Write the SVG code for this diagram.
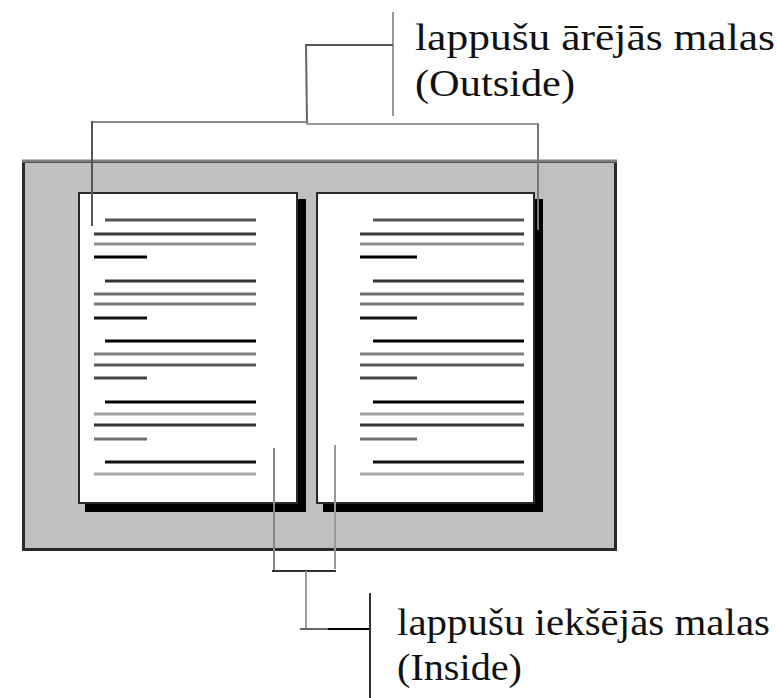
<svg xmlns="http://www.w3.org/2000/svg" width="777" height="698" viewBox="0 0 777 698">
<style>
.lbl{font-family:"Liberation Serif","DejaVu Serif",serif;font-size:38px;fill:#111}
.page{fill:#fff;stroke:#2a2a2a;stroke-width:2}
.shadow{fill:#000}
.tl line{stroke-width:3}
.con{fill:none;stroke-width:2}
</style>
<rect width="777" height="698" fill="#fff"/>
<g id="board">
<rect x="23.5" y="161.5" width="592" height="388" fill="#c0c0c0" stroke="#2a2a2a" stroke-width="3"/>
<line x1="22" y1="161" x2="617" y2="161" stroke="#7f7f7f" stroke-width="3"/>
</g>
<g id="left-page">
<rect class="shadow" x="85" y="199" width="221" height="313"/>
<rect class="page" x="79" y="193" width="218" height="310"/>
<g class="tl">
<line x1="105" y1="220" x2="256" y2="220" stroke="#555"/>
<line x1="94" y1="234" x2="256" y2="234" stroke="#3a3a3a"/>
<line x1="94" y1="244" x2="256" y2="244" stroke="#8c8c8c"/>
<line x1="94" y1="257" x2="147" y2="257" stroke="#000"/>
<line x1="105" y1="281" x2="256" y2="281" stroke="#333"/>
<line x1="94" y1="294" x2="256" y2="294" stroke="#707070"/>
<line x1="94" y1="304" x2="256" y2="304" stroke="#7a7a7a"/>
<line x1="94" y1="318" x2="147" y2="318" stroke="#111"/>
<line x1="105" y1="341" x2="256" y2="341" stroke="#000"/>
<line x1="94" y1="354" x2="256" y2="354" stroke="#808080"/>
<line x1="94" y1="365" x2="256" y2="365" stroke="#5a5a5a"/>
<line x1="94" y1="378" x2="147" y2="378" stroke="#444"/>
<line x1="105" y1="402" x2="256" y2="402" stroke="#000"/>
<line x1="94" y1="414" x2="256" y2="414" stroke="#a0a0a0"/>
<line x1="94" y1="425" x2="256" y2="425" stroke="#333"/>
<line x1="94" y1="439" x2="147" y2="439" stroke="#707070"/>
<line x1="105" y1="462" x2="256" y2="462" stroke="#111"/>
<line x1="94" y1="474" x2="256" y2="474" stroke="#aaa"/>
</g>
</g>
<g id="right-page">
<rect class="shadow" x="323" y="199" width="220" height="313"/>
<rect class="page" x="317" y="193" width="217" height="310"/>
<g class="tl">
<line x1="373" y1="220" x2="524" y2="220" stroke="#555"/>
<line x1="360" y1="234" x2="524" y2="234" stroke="#3a3a3a"/>
<line x1="360" y1="244" x2="524" y2="244" stroke="#8c8c8c"/>
<line x1="360" y1="257" x2="417" y2="257" stroke="#000"/>
<line x1="373" y1="281" x2="524" y2="281" stroke="#333"/>
<line x1="360" y1="294" x2="524" y2="294" stroke="#707070"/>
<line x1="360" y1="304" x2="524" y2="304" stroke="#7a7a7a"/>
<line x1="360" y1="318" x2="417" y2="318" stroke="#111"/>
<line x1="373" y1="341" x2="524" y2="341" stroke="#000"/>
<line x1="360" y1="354" x2="524" y2="354" stroke="#808080"/>
<line x1="360" y1="365" x2="524" y2="365" stroke="#5a5a5a"/>
<line x1="360" y1="378" x2="417" y2="378" stroke="#444"/>
<line x1="373" y1="402" x2="524" y2="402" stroke="#000"/>
<line x1="360" y1="414" x2="524" y2="414" stroke="#a0a0a0"/>
<line x1="360" y1="425" x2="524" y2="425" stroke="#333"/>
<line x1="360" y1="439" x2="417" y2="439" stroke="#707070"/>
<line x1="373" y1="462" x2="524" y2="462" stroke="#111"/>
<line x1="360" y1="474" x2="524" y2="474" stroke="#aaa"/>
</g>
</g>
<g id="connectors">
<line class="con" x1="393" y1="12" x2="393" y2="116" stroke="#999"/>
<line class="con" x1="305" y1="45" x2="393" y2="45" stroke="#555"/>
<line class="con" x1="306" y1="45" x2="307" y2="124" stroke="#666"/>
<line class="con" x1="92" y1="122" x2="307" y2="122" stroke="#8a8a8a" stroke-width="3"/>
<line class="con" x1="307" y1="124" x2="539" y2="124" stroke="#9a9a9a" stroke-width="3"/>
<line class="con" x1="92" y1="121" x2="92" y2="226" stroke="#555"/>
<line class="con" x1="538" y1="124" x2="538" y2="230" stroke="#777"/>
<line class="con" x1="274" y1="448" x2="274" y2="571" stroke="#888" stroke-width="3"/>
<line class="con" x1="335" y1="445" x2="335" y2="569" stroke="#999" stroke-width="3"/>
<line class="con" x1="272" y1="571" x2="336" y2="571" stroke="#333"/>
<line class="con" x1="306" y1="571" x2="306" y2="629" stroke="#999" stroke-width="3"/>
<line class="con" x1="300" y1="629" x2="328" y2="629" stroke="#666" stroke-width="3"/>
<line class="con" x1="328" y1="629" x2="371" y2="629" stroke="#000" stroke-width="3"/>
<line class="con" x1="370" y1="593" x2="370" y2="698" stroke="#333"/>
</g>
<g id="label-outside">
<text class="lbl" x="415" y="50" textLength="360" lengthAdjust="spacingAndGlyphs">lappušu ārējās malas</text>
<text class="lbl" x="415" y="96" textLength="160" lengthAdjust="spacingAndGlyphs">(Outside)</text>
</g>
<g id="label-inside">
<text class="lbl" x="397" y="635" textLength="373" lengthAdjust="spacingAndGlyphs">lappušu iekšējās malas</text>
<text class="lbl" x="397" y="680" textLength="125" lengthAdjust="spacingAndGlyphs">(Inside)</text>
</g>
</svg>
